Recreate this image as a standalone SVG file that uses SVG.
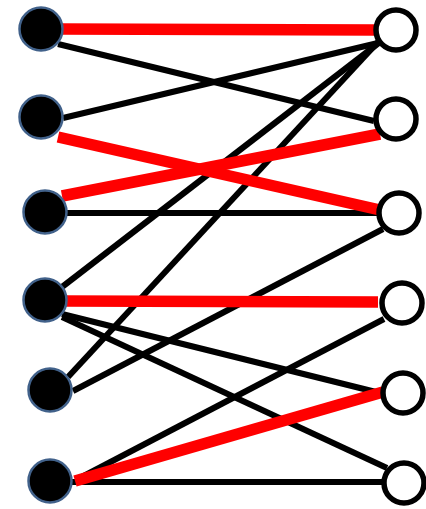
<svg xmlns="http://www.w3.org/2000/svg" width="426" height="509" viewBox="0 0 426 509">
<style>
.blk{stroke:#000;stroke-width:6;fill:none}
.red{stroke:#ff0000;stroke-width:11.5;fill:none}
.ln{fill:#000;stroke:#41618a;stroke-width:2.5}
.rn{fill:#fff;stroke:#000;stroke-width:5.5}
</style>
<rect width="426" height="509" fill="#fff"/>
<g id="connectors">
<line class="blk" x1="58" y1="44" x2="374" y2="121"/>
<line class="blk" x1="63" y1="118" x2="378" y2="43"/>
<line class="blk" x1="63" y1="213" x2="380" y2="213"/>
<line class="blk" x1="62" y1="287" x2="380" y2="42"/>
<line class="blk" x1="68" y1="377" x2="378" y2="42"/>
<line class="blk" x1="73" y1="391" x2="383" y2="229"/>
<line class="blk" x1="62" y1="314" x2="380" y2="393"/>
<line class="blk" x1="62" y1="317" x2="387" y2="468"/>
<line class="blk" x1="76" y1="480" x2="384" y2="319"/>
<line class="blk" x1="72" y1="482" x2="384" y2="482"/>
<line class="red" x1="60" y1="29" x2="375" y2="30"/>
<line class="red" x1="58" y1="137" x2="380" y2="210"/>
<line class="red" x1="62" y1="196" x2="380" y2="134"/>
<line class="red" x1="64" y1="301" x2="378" y2="302"/>
<line class="red" x1="75" y1="481" x2="383" y2="392"/>
</g>
<g id="L1"><circle class="ln" cx="41" cy="29" r="21.5"/></g>
<g id="L2"><circle class="ln" cx="41" cy="117" r="21.5"/></g>
<g id="L3"><circle class="ln" cx="45" cy="212" r="21.5"/></g>
<g id="L4"><circle class="ln" cx="45" cy="300" r="21.5"/></g>
<g id="L5"><circle class="ln" cx="50" cy="390" r="21.5"/></g>
<g id="L6"><circle class="ln" cx="50" cy="481" r="21.5"/></g>
<g id="R1"><circle class="rn" cx="396" cy="30" r="20"/></g>
<g id="R2"><circle class="rn" cx="396" cy="119" r="20"/></g>
<g id="R3"><circle class="rn" cx="399" cy="213" r="20"/></g>
<g id="R4"><circle class="rn" cx="402" cy="303" r="20"/></g>
<g id="R5"><circle class="rn" cx="403" cy="393" r="20"/></g>
<g id="R6"><circle class="rn" cx="404" cy="483" r="20"/></g>
</svg>
